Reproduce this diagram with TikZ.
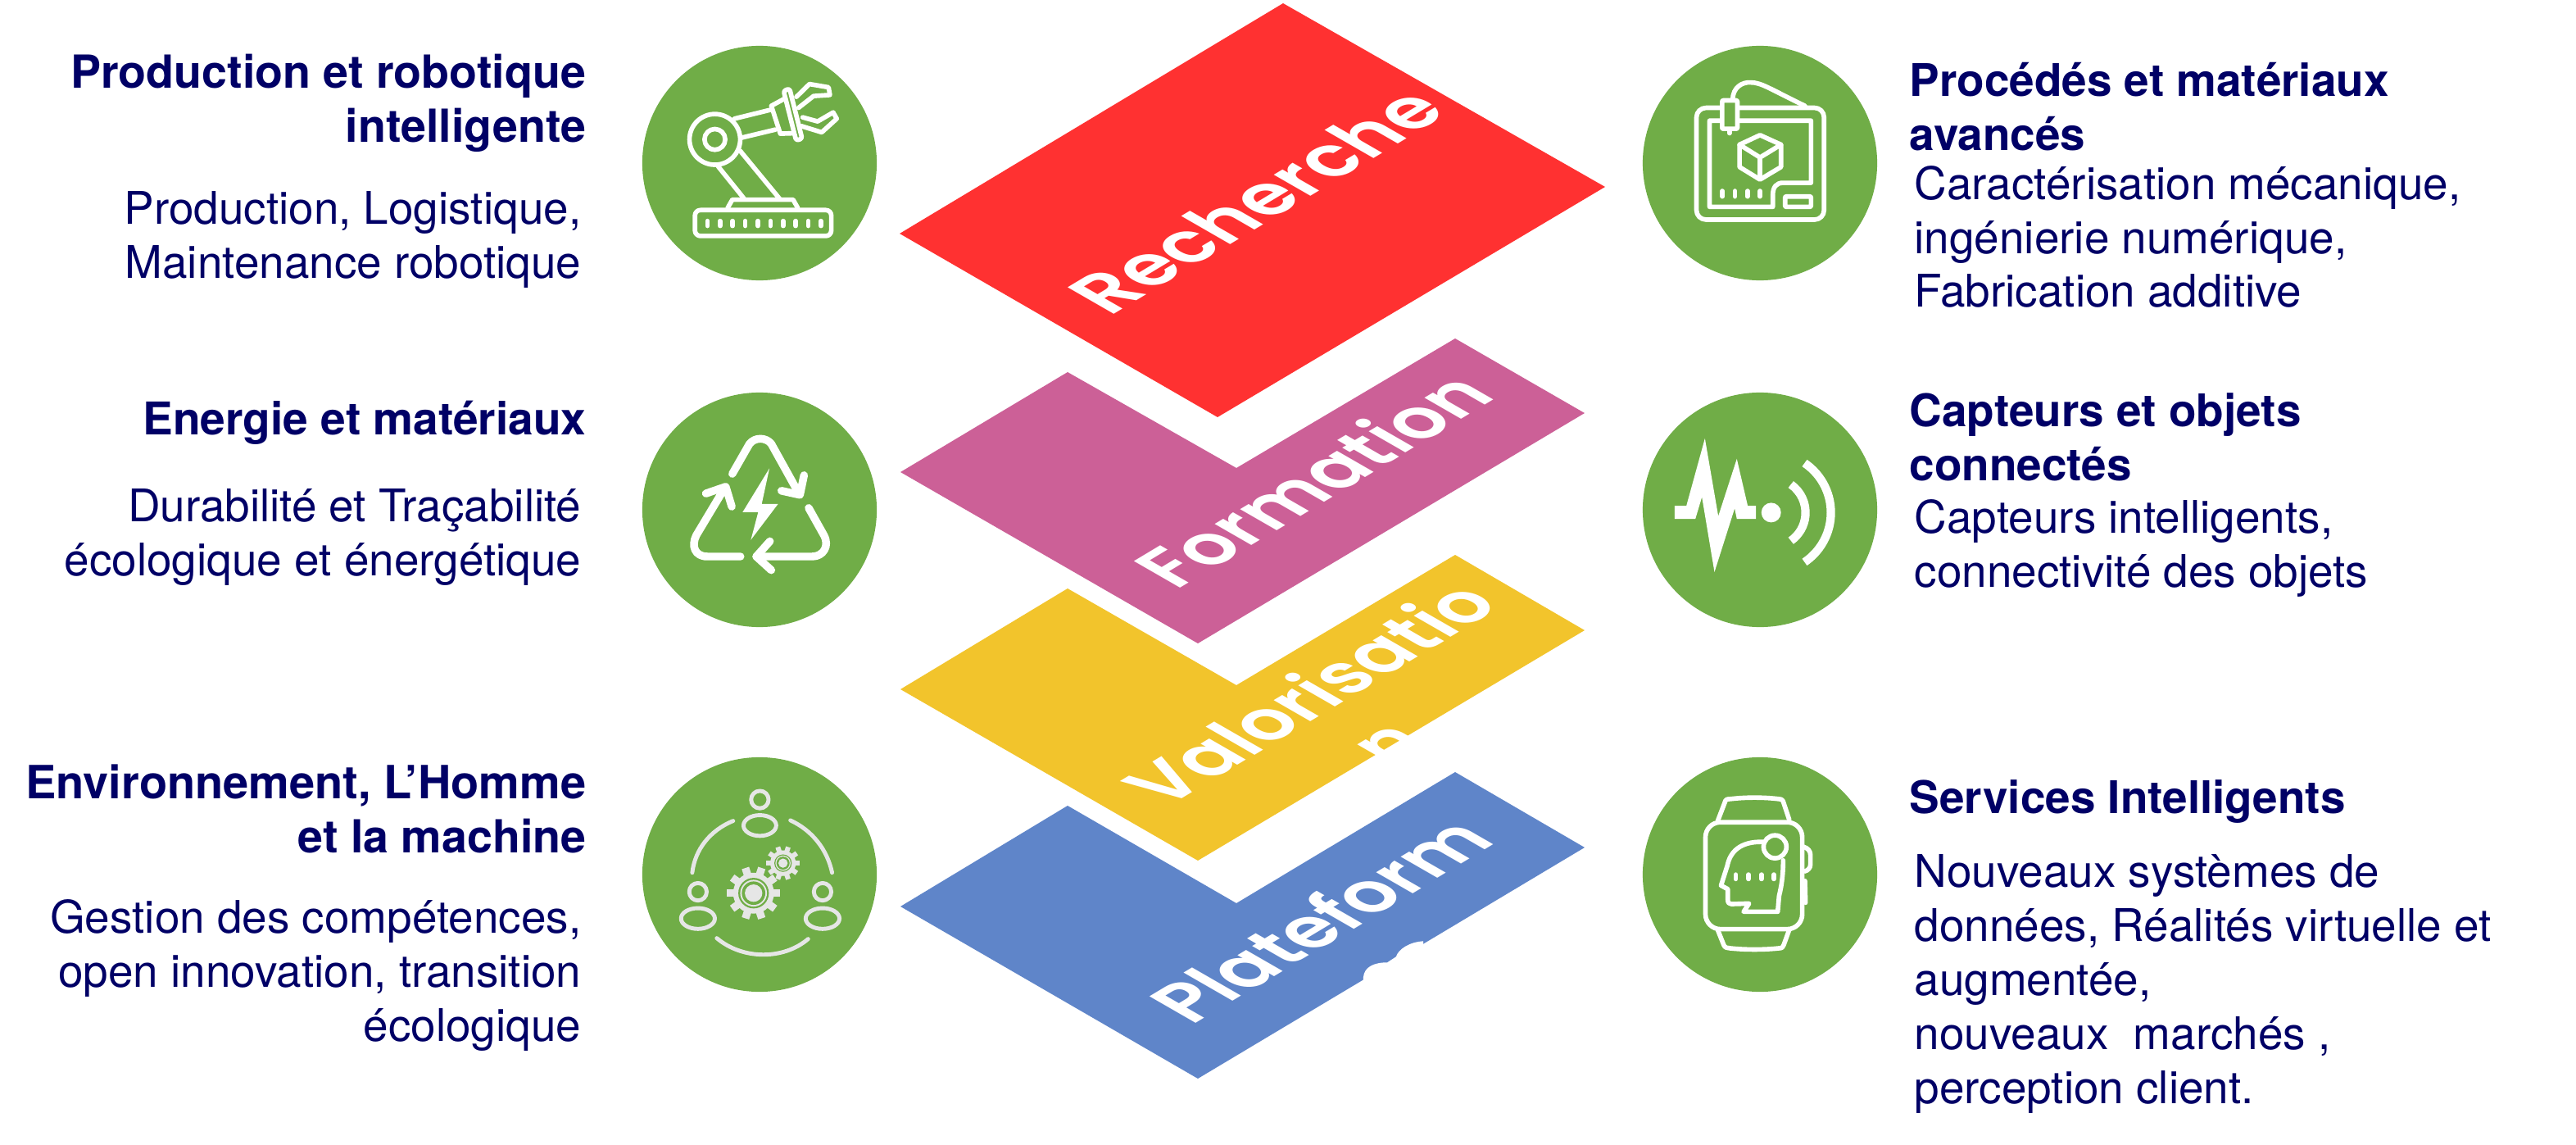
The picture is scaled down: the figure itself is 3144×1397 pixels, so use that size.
\documentclass[tikz,border=0pt]{standalone}
\usepackage{fontspec}
\setmainfont{TeX Gyre Heros}
\newfontfamily\layerfont[UprightFont={* SemiBold},BoldFont={* SemiBold}]{Poppins}
\definecolor{navy}{HTML}{000066}
\definecolor{disc}{HTML}{70AD47}
\definecolor{redlayer}{HTML}{FF3131}
\definecolor{purplelayer}{HTML}{CC6097}
\definecolor{yellowlayer}{HTML}{F2C42C}
\definecolor{bluelayer}{HTML}{5F85C9}
\definecolor{soft}{HTML}{E6E6E6}
\tikzset{
 x=0.01cm,y=-0.01cm,
 discnode/.style={circle,fill=disc,inner sep=0pt,minimum size=2.86cm},
 headl/.style={anchor=base east,inner sep=0pt,text=navy,font=\fontsize{15.8}{18.7}\selectfont\bfseries},
 bodyl/.style={anchor=base east,inner sep=0pt,text=navy,font=\fontsize{15.6}{18.7}\selectfont},
 headr/.style={anchor=base west,inner sep=0pt,text=navy,font=\fontsize{15.6}{18.7}\selectfont\bfseries},
 bodyr/.style={anchor=base west,inner sep=0pt,text=navy,font=\fontsize{15.6}{18.7}\selectfont},
 layertext/.style={anchor=base,inner sep=0pt,text=white,transform shape,font=\fontsize{26.5}{31}\selectfont\layerfont},
 iconframe/.style={x=0.003333cm,y=-0.003333cm,draw=white,line cap=round,line join=round,line width=1.6pt},
 layerdir/.style={cm={0.80,0.48,-0.866,0.498,(0,0)}},
 layerdirwide/.style={cm={0.82,0.492,-0.866,0.498,(0,0)}},
}
\newcommand{\gearicon}[5]{% cx cy body tooth-radius tooth-count
 \fill[soft] (#1,#2) circle (#3);
 \foreach \k in {1,...,#5}{
  \draw[soft,line width=#4*0.00096cm,line cap=butt] (#1,#2) -- ++({\k*360/#5}:#4);
 }
}
\begin{document}
\begin{tikzpicture}
\useasboundingbox (0,0) rectangle (3144,1397);
\fill[white] (0,0) rectangle (3144,1397);
% layers
\fill[bluelayer] (1303,983) -- (1509,1102) -- (1776,942) -- (1934,1034) -- (1462,1316) -- (1099,1106) -- cycle;
\fill[yellowlayer] (1303,718) -- (1509,836) -- (1776,677) -- (1934,769) -- (1462,1050) -- (1099,841) -- cycle;
\fill[purplelayer] (1303,454) -- (1509,571) -- (1776,413) -- (1934,504) -- (1462,785) -- (1099,576) -- cycle;
\fill[redlayer] (1566,4) -- (1959,228) -- (1486,509) -- (1098,285) -- cycle;
% white notches on the blue edge
\begin{scope}[shift={(1640,1130)},x=0.003333cm,y=-0.003333cm]
 \fill[white] (72,187) .. controls (75,150) and (110,133) .. (160,133) -- (192,112) .. controls (200,85) and (240,58) .. (292,55) -- (292,100) -- (72,230) -- cycle;
\end{scope}
% layer words
\begin{scope}[shift={(1562,262)},layerdirwide]
 \node[layertext] (recherche) at (0,0) {Recherche};
\end{scope}
\begin{scope}[shift={(1632,603)},layerdir]
 \node[layertext] (formation) at (0,0) {Formation};
\end{scope}
\begin{scope}[shift={(1628,863)},layerdir]
 \node[layertext] (valorisatio) at (0,0) {Valorisatio};
\end{scope}
\begin{scope}[shift={(1721,923)},layerdir]
 \node[layertext] (valorisation) at (0,0) {n};
\end{scope}
\begin{scope}[shift={(1641,1140)},layerdir]
 \node[layertext] (plateform) at (0,0) {Plateform};
\end{scope}
% discs
\node[discnode] (d1) at (927,199) {};
\node[discnode] (d2) at (927,622) {};
\node[discnode] (d3) at (927,1067) {};
\node[discnode] (d4) at (2148,199) {};
\node[discnode] (d5) at (2148,622) {};
\node[discnode] (d6) at (2148,1067) {};
% robot
\begin{scope}[shift={(760,30)},iconframe]
 \draw (338,421) circle (93);
 \draw (338,421) circle (38);
 \draw (410,345) -- (540,313);
 \draw (435,415) -- (560,385);
 \draw (600,268) -- (545,298) -- (578,400) -- (640,398);
 \draw[fill=disc,rounded corners=0.8pt] (590,243) -- (612,235) -- (658,418) -- (636,425) -- cycle;
 \draw (637,265) -- (685,218) -- (755,230) -- (760,258) -- (700,262) -- (645,305);
 \draw (660,340) -- (715,355) -- (772,322) -- (785,345) -- (730,395) -- (655,372);
 \draw (350,520) -- (445,638);
 \draw (430,462) -- (575,638);
 \draw (385,672) -- (402,642) -- (625,642) -- (642,672);
 \draw[rounded corners=1.9pt] (265,680) rectangle (765,775);
 \foreach \i in {0,...,9} \draw (311+46.2*\i,720) -- (311+46.2*\i,738);
\end{scope}
% recycling
\begin{scope}[shift={(760,470)},iconframe,line width=2.7pt]
 \draw (402,325) -- (465,215) .. controls (485,190) and (525,190) .. (545,215) -- (645,395);
 \draw (665,330) -- (650,402) -- (582,387);
 \draw (682,450) -- (738,550) .. controls (760,590) and (735,628) .. (695,628) -- (490,628);
 \draw (540,572) -- (490,628) -- (545,678);
 \draw (432,628) -- (310,628) .. controls (265,628) and (250,590) .. (270,550) -- (375,375);
 \draw (305,397) -- (378,372) -- (400,445);
 \fill[white] (538,305) -- (440,465) -- (497,465) -- (470,567) -- (570,435) -- (510,435) -- cycle;
\end{scope}
% people and gears
\begin{scope}[shift={(760,920)},iconframe,draw=soft,line width=1.4pt]
 \draw (503,167) circle (32);
 \draw (503,262) ellipse (60 and 38);
 \draw (276,505) circle (32);
 \draw (276,603) ellipse (62 and 38);
 \draw (733,505) circle (32);
 \draw (733,603) ellipse (62 and 38);
 \draw (405,245) .. controls (320,280) and (265,350) .. (255,435);
 \draw (615,243) .. controls (695,280) and (750,350) .. (768,435);
 \draw (345,675) .. controls (440,755) and (590,755) .. (680,678);
 \gearicon{480}{510}{75}{97}{10}
 \fill[disc] (480,510) circle (56);
 \fill[soft] (480,510) circle (49);
 \fill[disc] (480,510) circle (43);
 \fill[soft] (480,510) circle (32);
 \gearicon{588}{400}{47}{62}{10}
 \fill[disc] (588,400) circle (32);
 \fill[soft] (588,400) circle (28);
 \fill[disc] (588,400) circle (24);
 \fill[soft] (588,400) circle (17);
\end{scope}
% printer
\begin{scope}[shift={(1980,60)},iconframe]
 \draw[rounded corners=3.3pt] (272,215) rectangle (740,625);
 \draw (362,262) -- (320,262) -- (320,578) -- (552,578) -- (552,535) .. controls (552,505) and (565,490) .. (590,490) -- (692,490) -- (692,262) -- (428,262);
 \draw[fill=disc,rounded corners=0.3pt] (366,188) rectangle (422,292);
 \draw (393,295) -- (393,308);
 \draw (405,185) .. controls (405,140) and (440,120) .. (470,122) .. controls (510,122) and (540,145) .. (670,208);
 \draw (505,315) -- (582,350) -- (582,432) -- (505,478) -- (430,432) -- (430,350) -- cycle;
 \draw (430,350) -- (505,397) -- (582,350);
 \draw (505,397) -- (505,475);
 \foreach \i in {367,413,459,505} \draw (\i,520) -- (\i,540);
 \draw[rounded corners=0.3pt] (597,540) rectangle (692,578);
\end{scope}
% sensor
\begin{scope}[shift={(1980,470)},iconframe]
 \fill[white] (192,442) -- (235,442) -- (303,195) -- (352,480) -- (420,270) -- (460,442) -- (490,442) -- (490,490) -- (420,490) -- (412,452) -- (338,685) -- (292,410) -- (268,490) -- (192,490) -- cycle;
 \fill[white] (546,467) circle (36);
 \draw[line width=2.9pt,line cap=butt] (546,467) ++(-55:126) arc (-55:55:126);
 \draw[line width=2.9pt,line cap=butt] (546,467) ++(-56:219) arc (-56:56:219);
\end{scope}
% watch
\begin{scope}[shift={(1980,920)},iconframe]
 \draw[rounded corners=5.2pt] (305,250) rectangle (660,642);
 \draw (350,245) -- (375,180) .. controls (378,165) and (385,165) .. (395,165) .. controls (450,158) and (520,158) .. (575,165) .. controls (585,165) and (590,170) .. (592,180) -- (612,240);
 \draw (350,645) -- (372,700) .. controls (376,710) and (385,712) .. (395,712) .. controls (450,718) and (520,718) .. (575,712) .. controls (585,712) and (590,708) .. (592,700) -- (612,645);
 \draw (665,340) .. controls (680,345) and (690,355) .. (690,370) -- (690,405) .. controls (690,418) and (680,428) .. (668,430);
 \draw (670,465) -- (672,545);
 \draw (560,340) circle (42);
 \draw (515,322) .. controls (430,320) and (395,360) .. (385,410) -- (362,482) -- (387,495) -- (387,535) .. controls (387,545) and (392,550) .. (400,550) -- (465,548) -- (445,578) -- (570,578) -- (575,520) .. controls (585,480) and (590,440) .. (590,390);
 \foreach \i in {416,463,510,556} \draw (\i,442) -- (\i,458);
\end{scope}
% left texts
\node[headl] (t1) at (716,108) {Production et robotique};
\node[headl] (t2) at (716,174) {intelligente};
\node[bodyl] (t3) at (710,274) {Production, Logistique,};
\node[bodyl] (t4) at (710,340) {Maintenance robotique};
\node[headl,font=\fontsize{15.65}{18.7}\selectfont\bfseries] (t5) at (716,530) {Energie et matériaux};
\node[bodyl] (t6) at (710,636) {Durabilité et Traçabilité};
\node[bodyl] (t7) at (710,702) {écologique et énergétique};
\node[headl,font=\fontsize{15.9}{18.7}\selectfont\bfseries] (t8) at (716,974) {Environnement, L’Homme};
\node[headl] (t9) at (716,1040) {et la machine};
\node[bodyl] (t10) at (710,1138) {Gestion des compétences,};
\node[bodyl] (t11) at (710,1204) {open innovation, transition};
\node[bodyl] (t12) at (710,1270) {écologique};
% right texts
\node[headr] (r1) at (2330,118) {Procédés et matériaux};
\node[headr] (r2) at (2330,184) {avancés};
\node[bodyr] (r3) at (2336,244) {Caractérisation mécanique,};
\node[bodyr] (r4) at (2336,310) {ingénierie numérique,};
\node[bodyr] (r5) at (2336,374) {Fabrication additive};
\node[headr] (r6) at (2330,520) {Capteurs et objets};
\node[headr] (r7) at (2330,586) {connectés};
\node[bodyr] (r8) at (2336,650) {Capteurs intelligents,};
\node[bodyr] (r9) at (2336,716) {connectivité des objets};
\node[headr] (r10) at (2330,992) {Services Intelligents};
\node[bodyr] (r11) at (2336,1082) {Nouveaux systèmes de};
\node[bodyr] (r12) at (2336,1148) {données, Réalités virtuelle et};
\node[bodyr] (r13) at (2336,1214) {augmentée,};
\node[bodyr] (r14) at (2336,1280) {nouveaux\ \ marchés ,};
\node[bodyr] (r15) at (2336,1346) {perception client.};
\end{tikzpicture}
\end{document}
